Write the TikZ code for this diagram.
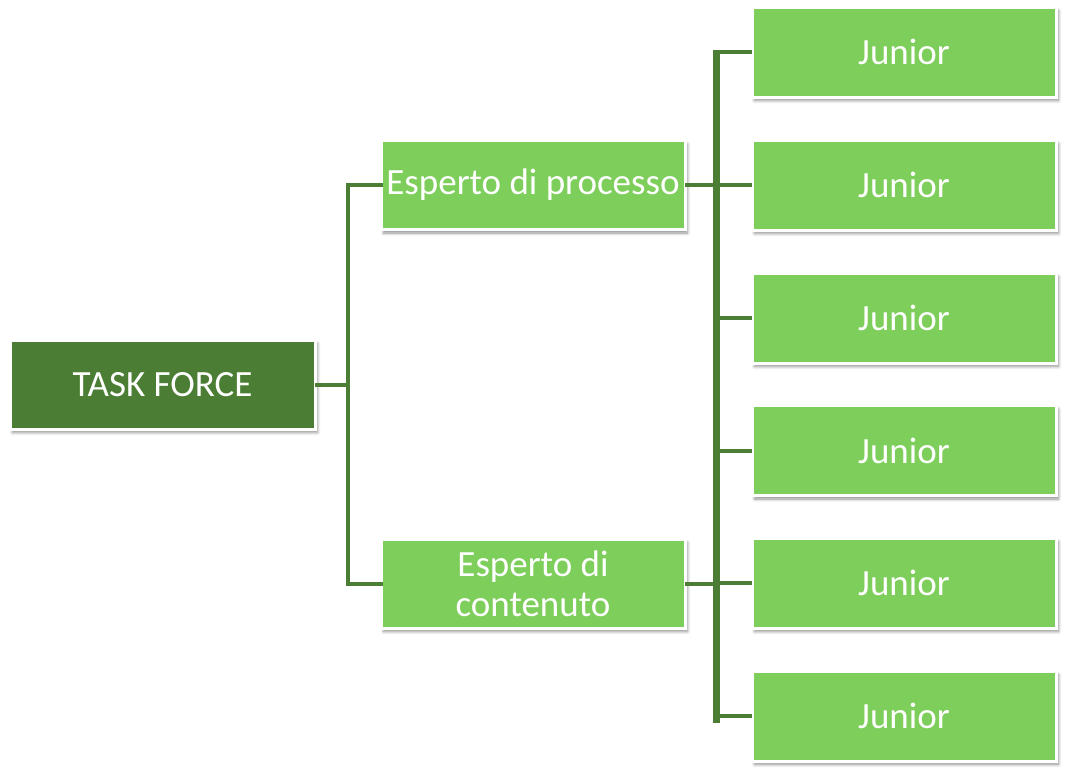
\documentclass[tikz,border=0pt]{standalone}
\usepackage{fontspec}
\setmainfont{Carlito}
\usetikzlibrary{shadows.blur}
\definecolor{dkgreen}{HTML}{4B7E34}
\definecolor{ltgreen}{HTML}{7ECE5C}
\tikzset{
  box/.style={draw=white, line width=3pt, minimum width=304pt, minimum height=89pt,
    inner sep=0pt, text=white, font=\fontsize{37}{40}\selectfont, align=center,
    outer sep=0pt,
    blur shadow={shadow xshift=2.5pt, shadow yshift=-3.5pt, shadow blur steps=6, shadow blur radius=3pt, shadow opacity=45}},
  topbox/.style={box, fill=dkgreen},
  subbox/.style={box, fill=ltgreen},
  conn/.style={draw=dkgreen, line width=4pt},
  trunk/.style={draw=dkgreen, line width=7pt}
}
\begin{document}
\begin{tikzpicture}[x=1pt,y=-1pt]
\useasboundingbox (0,0) rectangle (1067,769);
\node[topbox, minimum width=305pt] (tf) at (162.5,384.5) {TASK FORCE};
\node[subbox] (ep) at (533,185) {Esperto di processo};
\node[subbox] (ec) at (533,583.5) {Esperto di\\contenuto};
\foreach \i/\y in {1/52,2/185,3/318,4/450.5,5/583,6/716}{
  \node[subbox, minimum height=90pt] (j\i) at (904,\y) {Junior};
}
\coordinate (b1) at (348,384.5);
\coordinate (t) at (716,0);
% left connectors
\draw[conn] (tf.east) -- (b1);
\draw[conn, line cap=rect] (ep.west) -- (ep.west -| b1) -- (ec.west -| b1) -- (ec.west);
% right trunk
\draw[trunk] ([yshift=2pt]j1.west -| t) -- ([yshift=-7pt]j6.west -| t);
\draw[conn] (ep.east) -- (ep.east -| t);
\draw[conn] (ec.east) -- (ec.east -| t);
\foreach \i in {1,...,6}{
  \draw[conn] (j\i.west -| t) -- (j\i.west);
}
\end{tikzpicture}
\end{document}
